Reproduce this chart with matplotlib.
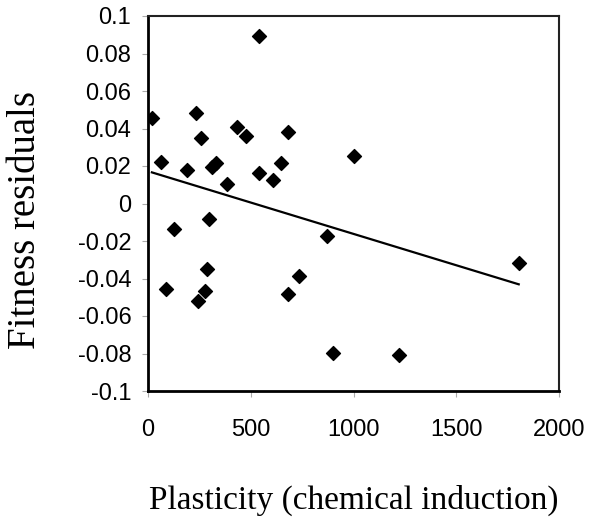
import numpy as np
import matplotlib.pyplot as plt

# plasticity (chemical induction) vs fitness residuals
plasticity = [19, 63, 86, 128, 191, 234, 242, 256, 277, 285, 298, 313, 331,
              383, 433, 475, 542, 542, 607, 646, 680, 683, 735, 869, 902,
              1002, 1221, 1804]
residuals = [0.0456, 0.0220, -0.0456, -0.0138, 0.0179, 0.0484, -0.0518,
             0.0348, -0.0468, -0.0348, -0.0084, 0.0196, 0.0214, 0.0102,
             0.0406, 0.0360, 0.0895, 0.0164, 0.0125, 0.0218, -0.0484,
             0.0381, -0.0387, -0.0173, -0.0799, 0.0255, -0.0810, -0.0319]

# fitted trend line end points
trend_x = [19, 1804]
trend_y = [0.0166, -0.0431]

xticks = [0, 500, 1000, 1500, 2000]
yticks = [-0.1, -0.08, -0.06, -0.04, -0.02, 0, 0.02, 0.04, 0.06, 0.08, 0.1]
ylabels = ['-0.1', '-0.08', '-0.06', '-0.04', '-0.02', '0', '0.02', '0.04',
           '0.06', '0.08', '0.1']

fig = plt.figure(figsize=(5.9, 5.19), dpi=100)
ax = fig.add_axes([148/590, 1 - 391/519, 411/590, 375/519])

ax.scatter(plasticity, residuals, marker='D', s=50, color='black', zorder=3)
ax.plot(trend_x, trend_y, color='black', lw=1.6)

ax.set_xlim(0, 2000)
ax.set_ylim(-0.1, 0.1)
ax.set_xticks(xticks)
ax.set_xticklabels([str(t) for t in xticks], family='Liberation Sans', fontsize=17)
ax.set_yticks(yticks)
ax.set_yticklabels(ylabels, family='Liberation Sans', fontsize=17)
ax.tick_params(direction='out', length=4, width=0.8, color='#aaaaaa', pad=8)
ax.tick_params(axis='x', pad=16)

for side in ['left', 'bottom']:
    ax.spines[side].set_linewidth(2)
for side in ['top', 'right']:
    ax.spines[side].set_linewidth(1.5)
    ax.spines[side].set_color('#222222')

ax.set_xlabel('Plasticity (chemical induction)', family='Liberation Serif',
              fontsize=24, labelpad=32)
ax.set_ylabel('Fitness residuals', family='Liberation Serif', fontsize=28)
ax.yaxis.label.set_va('center')
ax.yaxis.set_label_coords(-0.298, 0.456)

fig.savefig('out.png')
